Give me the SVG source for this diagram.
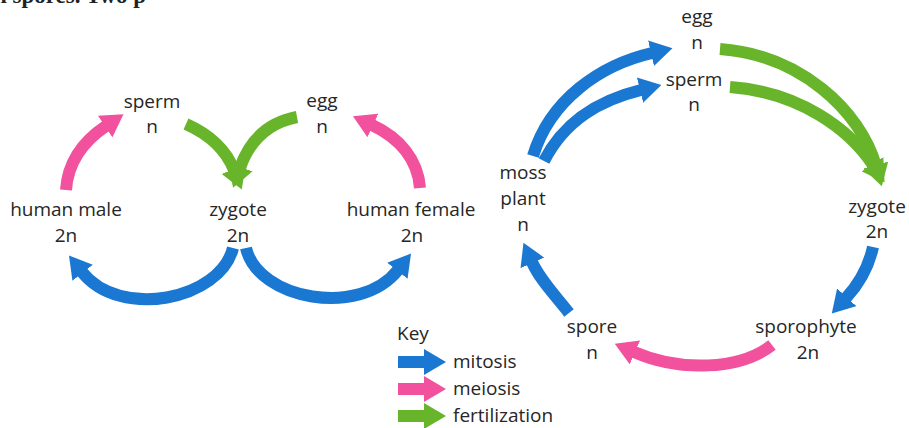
<svg xmlns="http://www.w3.org/2000/svg" width="909" height="428" viewBox="0 0 909 428">
<style>
.t{font-family:"Open Sans","Noto Sans",sans-serif;font-size:19px;fill:#262626;text-anchor:middle}
.k{font-family:"Open Sans","Noto Sans",sans-serif;font-size:19px;fill:#262626}
.a{fill:none;stroke-width:12}
.b{stroke:#1b78d2}
.p{stroke:#f2519d}
.g{stroke:#68b52b}
</style>
<defs>
<marker id="mb" markerUnits="userSpaceOnUse" markerWidth="22" markerHeight="26" viewBox="0 0 22 26" refX="1" refY="13" orient="auto"><path d="M0,0 L22,13 L0,26 z" fill="#1b78d2"/></marker>
<marker id="mp" markerUnits="userSpaceOnUse" markerWidth="22" markerHeight="26" viewBox="0 0 22 26" refX="1" refY="13" orient="auto"><path d="M0,0 L22,13 L0,26 z" fill="#f2519d"/></marker>
<marker id="mg" markerUnits="userSpaceOnUse" markerWidth="22" markerHeight="26" viewBox="0 0 22 26" refX="1" refY="13" orient="auto"><path d="M0,0 L22,13 L0,26 z" fill="#68b52b"/></marker>
</defs>
<rect width="909" height="428" fill="#fff"/>
<text x="-6" y="3" font-family="Liberation Serif" font-weight="bold" font-size="23" fill="#222">n spores. Two p</text>

<g id="connectors">
<path class="a p" d="M66,190 C68,160 85,140 106,126" marker-end="url(#mp)"/>
<path class="a g" d="M186,124 Q222,140 234,170" marker-end="url(#mg)"/>
<path class="a g" d="M297,117 Q255,125 240,168" marker-end="url(#mg)"/>
<path class="a p" d="M420,188 C418,160 400,138 372,125" marker-end="url(#mp)"/>
<path class="a b" d="M233,248 C220,300 120,320 82,272" marker-end="url(#mb)"/>
<path class="a b" d="M246,248 C258,300 360,318 398,270" marker-end="url(#mb)"/>

<path class="a b" d="M533,156 C550,100 600,65 652,53" marker-end="url(#mb)"/>
<path class="a b" d="M544,161 C565,120 600,100 641,90" marker-end="url(#mb)"/>
<path class="a g" d="M720,49 C800,55 860,110 876,166" marker-end="url(#mg)"/>
<path class="a g" d="M730,87 C800,92 850,130 873,165" marker-end="url(#mg)"/>
<path class="a b" d="M873,247 C868,270 858,285 846,298" marker-end="url(#mb)"/>
<path class="a p" d="M772,345 C740,370 680,372 634,352" marker-end="url(#mp)"/>
<path class="a b" d="M569,313 C555,295 540,280 532,262" marker-end="url(#mb)"/>
</g>

<g id="sperm-h"><text class="t" x="152" y="108">sperm</text><text class="t" x="152" y="133">n</text></g>
<g id="egg-h"><text class="t" x="322" y="107">egg</text><text class="t" x="322" y="133">n</text></g>
<g id="human-male"><text class="t" x="66" y="216">human male</text><text class="t" x="66" y="242">2n</text></g>
<g id="zygote-h"><text class="t" x="238" y="216">zygote</text><text class="t" x="238" y="242">2n</text></g>
<g id="human-female"><text class="t" x="411" y="216">human female</text><text class="t" x="412" y="242">2n</text></g>

<g id="egg-m"><text class="t" x="697" y="23">egg</text><text class="t" x="697" y="49">n</text></g>
<g id="sperm-m"><text class="t" x="694" y="86">sperm</text><text class="t" x="694" y="111">n</text></g>
<g id="moss-plant"><text class="t" x="523" y="179">moss</text><text class="t" x="523" y="205">plant</text><text class="t" x="523" y="231">n</text></g>
<g id="zygote-m"><text class="t" x="877" y="213">zygote</text><text class="t" x="877" y="238">2n</text></g>
<g id="sporophyte"><text class="t" x="806" y="333">sporophyte</text><text class="t" x="808" y="359">2n</text></g>
<g id="spore"><text class="t" x="592" y="333">spore</text><text class="t" x="592" y="359">n</text></g>

<g id="key">
<text class="k" x="397" y="340">Key</text>
<path class="a b" d="M398,362 L425,362" marker-end="url(#mb)"/>
<text class="k" x="453" y="368">mitosis</text>
<path class="a p" d="M398,389 L425,389" marker-end="url(#mp)"/>
<text class="k" x="453" y="395">meiosis</text>
<path class="a g" d="M398,416 L425,416" marker-end="url(#mg)"/>
<text class="k" x="453" y="422">fertilization</text>
</g>
</svg>
